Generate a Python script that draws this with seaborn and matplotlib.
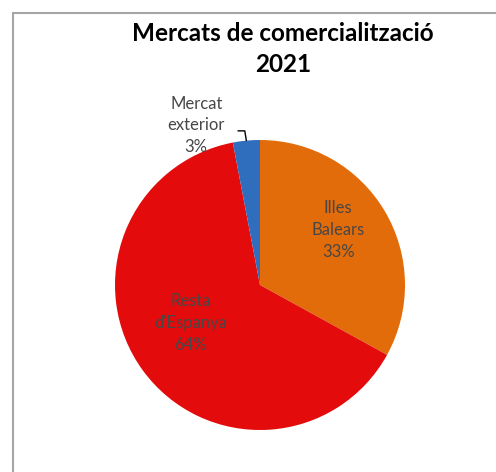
import numpy as np
import matplotlib
matplotlib.use("Agg")
import matplotlib.pyplot as plt
from matplotlib.lines import Line2D
import seaborn as sns

# ---- data ----
categories = ["Illes\nBalears", "Resta\nd'Espanya", "Mercat\nexterior"]
values = [33, 64, 3]
pct_labels = ["33%", "64%", "3%"]
colors = ["#E36C0A", "#E30B0B", "#2F6EBD"]
title = "Mercats de comercialització\n2021"

sns.set_theme(style="white")
plt.rcParams["font.family"] = ["Lato", "DejaVu Sans"]

W, H = 496, 472
fig = plt.figure(figsize=(W / 100, H / 100), dpi=100)
fig.patch.set_facecolor("white")

# pie axes: centre (260,285) px, radius 145 px
cx, cy, r = 260, 285, 145
ax = fig.add_axes([(cx - r) / W, (H - cy - r) / H, 2 * r / W, 2 * r / H])
wedges, _ = ax.pie(values, colors=colors, startangle=90, counterclock=False,
                   radius=1.0, wedgeprops=dict(linewidth=0))
ax.set_xlim(-1, 1)
ax.set_ylim(-1, 1)
ax.set_aspect("equal")
ax.axis("off")

txt_col = "#474747"
fs = 12
ls = 1.45
# inside labels
ax.text(0.54, 0.38, categories[0] + "\n" + pct_labels[0], ha="center", va="center",
        fontsize=fs, color=txt_col, linespacing=ls)
ax.text(-0.48, -0.26, categories[1] + "\n" + pct_labels[1], ha="center", va="center",
        fontsize=fs, color=txt_col, linespacing=ls)
# outside label with leader
ax.text(-0.44, 1.10, categories[2] + "\n" + pct_labels[2], ha="center", va="center",
        fontsize=fs, color=txt_col, linespacing=ls, clip_on=False)
w = wedges[2]
mid = np.deg2rad((w.theta1 + w.theta2) / 2)
ex, ey = np.cos(mid), np.sin(mid)
ax.plot([-0.152, -0.105, ex], [1.063, 1.063, ey], color="black", lw=1.0, clip_on=False)

fig.text(283 / W, 1 - 49 / H, title, ha="center", va="center", fontsize=17.5,
         fontweight="bold", color="black", linespacing=1.4)

# chart-area border (top and left visible)
bcol = "#A6A6A6"
fig.add_artist(Line2D([13 / W, 1.0], [1 - 13 / H, 1 - 13 / H], color=bcol, lw=1.5,
                      transform=fig.transFigure))
fig.add_artist(Line2D([13 / W, 13 / W], [0.0, 1 - 13 / H], color=bcol, lw=1.5,
                      transform=fig.transFigure))

fig.savefig("out.png", dpi=100, facecolor="white")
